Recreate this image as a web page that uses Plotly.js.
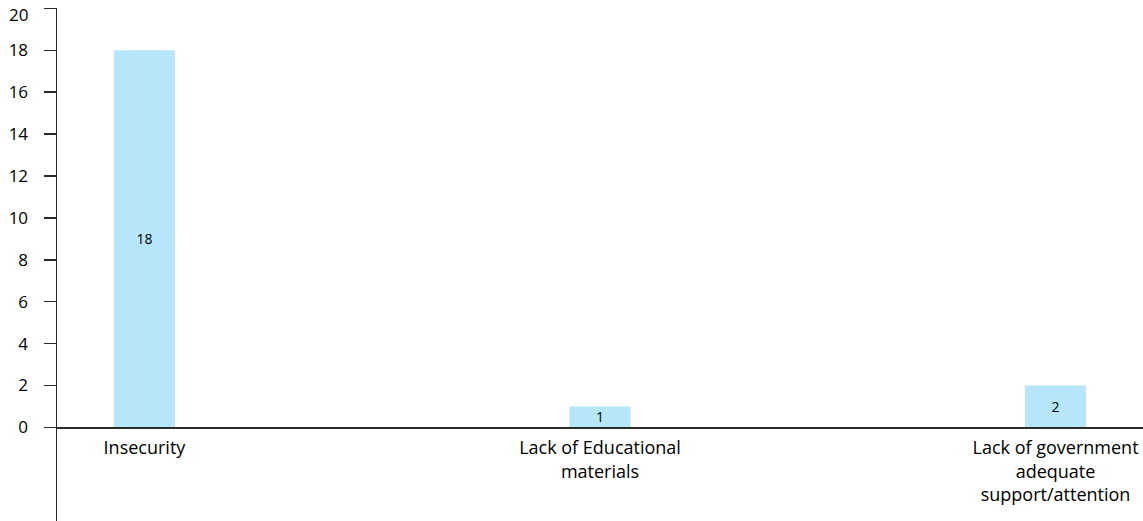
<!DOCTYPE html>
<html>
<head>
<meta charset="utf-8">
<script src="https://cdn.plot.ly/plotly-3.0.1.min.js"></script>
<style>html,body{margin:0;padding:0;background:#fff;}#chart{width:1143px;height:521px;}</style>
</head>
<body>
<div id="chart"></div>
<script>
const categories = ["Insecurity", "Lack of Educational<br>materials", "Lack of government<br>adequate<br>support/attention"];
const values = [18, 1, 2];
const yTickVals = [0, 2, 4, 6, 8, 10, 12, 14, 16, 18, 20];

const yMin = -4.47, yMax = 20.02;
const lineColor = "#2b2b2b";
const fontFam = "'Open Sans', sans-serif";
const topTick = yTickVals[yTickVals.length - 1];

const trace = {
  type: "bar",
  x: categories,
  y: values,
  text: values.map(String),
  textposition: "inside",
  insidetextanchor: "middle",
  textangle: 0,
  constraintext: "none",
  textfont: {family: fontFam, size: 14, color: "#000"},
  marker: {color: "#b5e6f9", line: {width: 0}},
  width: 0.134,
  hoverinfo: "x+y"
};

const layout = {
  width: 1143, height: 521,
  margin: {l: 57, r: 0, t: 8, b: 0, pad: 0},
  paper_bgcolor: "#fff", plot_bgcolor: "#fff",
  showlegend: false,
  font: {family: fontFam, size: 16, color: "#000"},
  xaxis: {
    type: "category",
    range: [-0.192, 2.192],
    anchor: "free",
    position: (0 - yMin) / (yMax - yMin),
    showline: true, linecolor: lineColor, linewidth: 1.5,
    ticks: "", showgrid: false, zeroline: false,
    ticklabelstandoff: 4,
    ticklabeloverflow: "allow",
    tickfont: {family: fontFam, size: 18, color: "#000"},
    automargin: false, fixedrange: true
  },
  yaxis: {
    range: [yMin, yMax],
    tickmode: "array", tickvals: yTickVals,
    ticktext: yTickVals.map(v => v === topTick ? "" : String(v)),
    showline: true, linecolor: lineColor, linewidth: 1.5,
    ticks: "outside", ticklen: 12, tickwidth: 1.5, tickcolor: lineColor,
    ticklabelstandoff: 12,
    ticklabeloverflow: "allow",
    showgrid: false, zeroline: false,
    tickfont: {family: fontFam, size: 17, color: "#000"},
    automargin: false, fixedrange: true
  },
  annotations: [{
    xref: "paper", yref: "y", x: 0, y: topTick,
    xanchor: "right", yanchor: "middle", xshift: -27, yshift: -6,
    text: String(topTick), showarrow: false,
    font: {family: fontFam, size: 17, color: "#000"}
  }]
};

Plotly.newPlot("chart", [trace], layout, {displayModeBar: false, staticPlot: true});
</script>
</body>
</html>
